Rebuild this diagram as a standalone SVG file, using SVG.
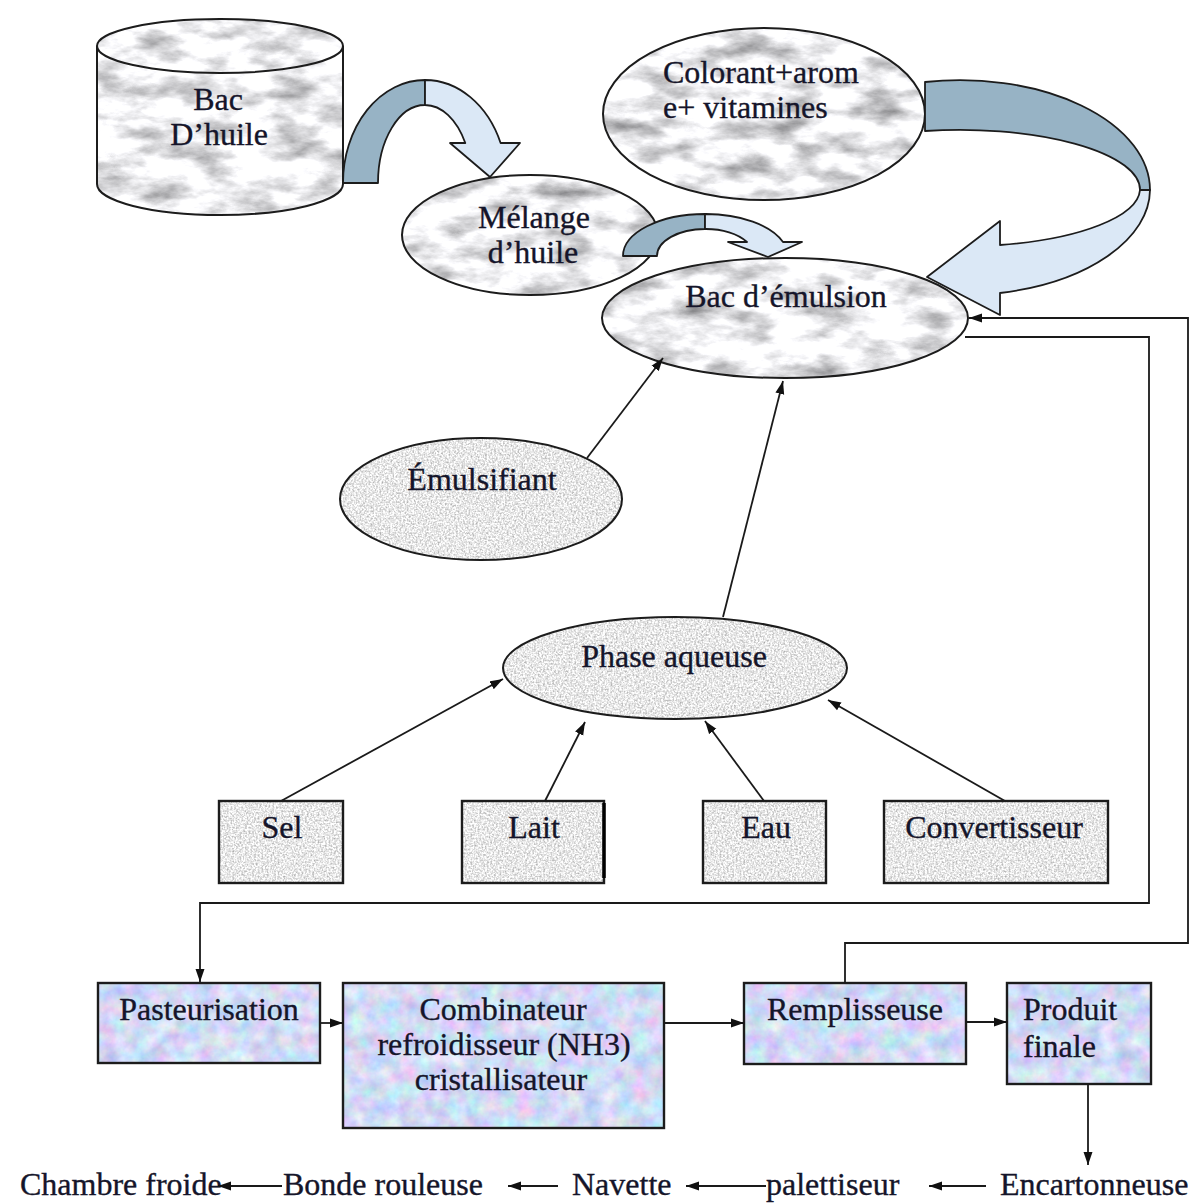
<svg xmlns="http://www.w3.org/2000/svg" width="1197" height="1203" viewBox="0 0 1197 1203">
  <style>
    text { font-family: "Liberation Serif", "Times New Roman", serif; font-size: 32px; fill: #15152a; stroke: #15152a; stroke-width: 0.35; }
    .c { text-anchor: middle; }
    .ol { fill: none; stroke: #1c1c1c; stroke-width: 2; }
    .box { fill: none; stroke: #1c1c1c; stroke-width: 2.4; }
    .wire { fill: none; stroke: #1a1a1a; stroke-width: 1.8; }
    .dark { fill: #97b3c5; stroke: #1c1c1c; stroke-width: 1.8; stroke-linejoin: round; }
    .light { fill: #dbe8f6; stroke: #1c1c1c; stroke-width: 1.8; stroke-linejoin: round; }
  </style>
  <defs>
    <!-- pale grey veined marble for the tanks -->
    <filter id="fMarble" x="0" y="0" width="1" height="1" color-interpolation-filters="sRGB">
      <feTurbulence type="fractalNoise" baseFrequency="0.022 0.05" numOctaves="5" seed="7"/>
      <feColorMatrix type="matrix" values="0.95 0 0 0 0.46  0.95 0 0 0 0.46  0.95 0 0 0 0.47  0 0 0 0 1"/>
      <feComposite in2="SourceAlpha" operator="in"/>
    </filter>
    <!-- fine grey grain for the ingredients -->
    <filter id="fGrain" x="0" y="0" width="1" height="1" color-interpolation-filters="sRGB">
      <feTurbulence type="fractalNoise" baseFrequency="0.55" numOctaves="3" seed="3"/>
      <feColorMatrix type="matrix" values="0.6 0 0 0 0.61  0.6 0 0 0 0.61  0.6 0 0 0 0.61  0 0 0 0 1"/>
      <feComposite in2="SourceAlpha" operator="in"/>
    </filter>
    <!-- soft pastel blue/pink paper for the process steps -->
    <filter id="fPastel" x="0" y="0" width="1" height="1" color-interpolation-filters="sRGB">
      <feTurbulence type="fractalNoise" baseFrequency="0.06" numOctaves="4" seed="11"/>
      <feColorMatrix type="matrix" values="0.4 0 0 0 0.62  0 0.35 0 0 0.68  0 0 0.2 0 0.86  0 0 0 0 1"/>
      <feComposite in2="SourceAlpha" operator="in"/>
    </filter>
    <marker id="ah" viewBox="0 0 13 10" refX="13" refY="5" markerWidth="13" markerHeight="10" markerUnits="userSpaceOnUse" orient="auto">
      <path d="M0,0.5 L13,5 L0,9.5 Z" fill="#111"/>
    </marker>
  </defs>

  <rect width="1197" height="1203" fill="#ffffff"/>

  <!-- oil tank (cylinder) -->
  <g id="bac-huile">
    <path d="M97,46 V184 A123,31 0 0 0 343,184 V46 A123,27 0 0 0 97,46 Z" fill="#eee" filter="url(#fMarble)"/>
    <path d="M97,46 V184 A123,31 0 0 0 343,184 V46 A123,27 0 0 0 97,46 Z" class="ol"/>
    <path d="M97,46 A123,27 0 0 0 343,46" class="ol"/>
    <text class="c" x="218" y="110">Bac</text>
    <text class="c" x="219" y="145">D’huile</text>
  </g>

  <!-- tank to oil blend -->
  <g id="fleche-huile">
    <path class="dark" d="M343,183 A82,103 0 0 1 425,80 L425,105 A47,78 0 0 0 378,183 Z"/>
    <path class="light" d="M425,80 A82,103 0 0 1 500.6,143 L520,143 L490,177 L450,143 L465.3,143 A47,78 0 0 0 425,105 Z"/>
  </g>

  <g id="melange-huile">
    <ellipse cx="530" cy="235" rx="128" ry="60" fill="#eee" filter="url(#fMarble)"/>
    <ellipse cx="530" cy="235" rx="128" ry="60" class="ol"/>
    <text class="c" x="534" y="228">Mélange</text>
    <text class="c" x="533" y="263">d’huile</text>
  </g>

  <g id="bac-emulsion">
    <ellipse cx="785" cy="318" rx="183" ry="60" fill="#eee" filter="url(#fMarble)"/>
    <ellipse cx="785" cy="318" rx="183" ry="60" class="ol"/>
    <text class="c" x="786" y="307">Bac d’émulsion</text>
  </g>

  <!-- oil blend to emulsion tank -->
  <g id="fleche-melange">
    <path class="dark" d="M623,256 A82,42 0 0 1 705,214 L705,229 A48,27 0 0 0 657,256 Z"/>
    <path class="light" d="M705,214 A82,42 0 0 1 783,242 L802,242 L768,257 L728,242 L747,242 A48,27 0 0 0 705,229 Z"/>
  </g>

  <g id="colorant">
    <ellipse cx="764" cy="114" rx="161" ry="86" fill="#eee" filter="url(#fMarble)"/>
    <ellipse cx="764" cy="114" rx="161" ry="86" class="ol"/>
    <text x="663" y="83">Colorant+arom</text>
    <text x="663" y="118">e+ vitamines</text>
  </g>

  <!-- colouring/flavour to emulsion tank -->
  <g id="fleche-colorant">
    <path class="dark" d="M925,82 A190,110 0 0 1 1150,190 L1140,190 A180,60 0 0 0 925,131 Z"/>
    <path class="light" d="M1150,190 A190,106 0 0 1 1000,293 L1000,315 L927,277 L1000,221 L1000,245 A180,58 0 0 0 1140,190 Z"/>
  </g>

  <g id="emulsifiant">
    <ellipse cx="481" cy="499" rx="141" ry="61" fill="#e8e8e8" filter="url(#fGrain)"/>
    <ellipse cx="481" cy="499" rx="141" ry="61" class="ol"/>
    <text class="c" x="482" y="490">Émulsifiant</text>
  </g>

  <g id="phase-aqueuse">
    <ellipse cx="675" cy="668" rx="172" ry="51" fill="#e8e8e8" filter="url(#fGrain)"/>
    <ellipse cx="675" cy="668" rx="172" ry="51" class="ol"/>
    <text class="c" x="674" y="667">Phase aqueuse</text>
  </g>

  <g id="sel">
    <rect x="219" y="801" width="124" height="82" fill="#e8e8e8" filter="url(#fGrain)"/>
    <rect x="219" y="801" width="124" height="82" class="box"/>
    <text class="c" x="282" y="838">Sel</text>
  </g>
  <g id="lait">
    <rect x="462" y="801" width="142" height="82" fill="#e8e8e8" filter="url(#fGrain)"/>
    <rect x="462" y="801" width="142" height="82" class="box"/>
    <line x1="604" y1="803" x2="604" y2="878" stroke="#000" stroke-width="3.5"/>
    <text class="c" x="534" y="838">Lait</text>
  </g>
  <g id="eau">
    <rect x="703" y="801" width="123" height="82" fill="#e8e8e8" filter="url(#fGrain)"/>
    <rect x="703" y="801" width="123" height="82" class="box"/>
    <text class="c" x="766" y="838">Eau</text>
  </g>
  <g id="convertisseur">
    <rect x="884" y="801" width="224" height="82" fill="#e8e8e8" filter="url(#fGrain)"/>
    <rect x="884" y="801" width="224" height="82" class="box"/>
    <text class="c" x="994" y="838">Convertisseur</text>
  </g>

  <g id="pasteurisation">
    <rect x="98" y="983" width="222" height="80" fill="#cfdcf3" filter="url(#fPastel)"/>
    <rect x="98" y="983" width="222" height="80" class="box"/>
    <text class="c" x="209" y="1020">Pasteurisation</text>
  </g>
  <g id="combinateur">
    <rect x="343" y="983" width="321" height="145" fill="#cfdcf3" filter="url(#fPastel)"/>
    <rect x="343" y="983" width="321" height="145" class="box"/>
    <text class="c" x="503" y="1020">Combinateur</text>
    <text class="c" x="504" y="1055">refroidisseur (NH3)</text>
    <text class="c" x="501" y="1090">cristallisateur</text>
  </g>
  <g id="remplisseuse">
    <rect x="744" y="983" width="222" height="81" fill="#cfdcf3" filter="url(#fPastel)"/>
    <rect x="744" y="983" width="222" height="81" class="box"/>
    <text class="c" x="855" y="1020">Remplisseuse</text>
  </g>
  <g id="produit-finale">
    <rect x="1007" y="983" width="144" height="101" fill="#cfdcf3" filter="url(#fPastel)"/>
    <rect x="1007" y="983" width="144" height="101" class="box"/>
    <text x="1023" y="1020">Produit</text>
    <text x="1023" y="1057">finale</text>
  </g>

  <!-- packing line -->
  <g id="encartonneuse"><text x="1000" y="1195">Encartonneuse</text></g>
  <g id="palettiseur"><text x="766" y="1195">palettiseur</text></g>
  <g id="navette"><text x="572" y="1195">Navette</text></g>
  <g id="bonde-rouleuse"><text x="283" y="1195">Bonde rouleuse</text></g>
  <g id="chambre-froide"><text x="20" y="1195">Chambre froide</text></g>

  <g id="connecteurs" marker-end="url(#ah)">
    <path class="wire" d="M587,458 L663,358"/>
    <path class="wire" d="M723,617 L783,381"/>
    <path class="wire" d="M281,801 L503,679"/>
    <path class="wire" d="M545,801 L585,722"/>
    <path class="wire" d="M764,801 L705,721"/>
    <path class="wire" d="M1005,801 L828,700"/>
    <path class="wire" d="M845,983 V943 H1188 V318 H969"/>
    <path class="wire" d="M965,337 H1149 V903 H200 V982"/>
    <path class="wire" d="M320,1023 H343"/>
    <path class="wire" d="M664,1023 H744"/>
    <path class="wire" d="M966,1022 H1007"/>
    <path class="wire" d="M1088,1084 V1165"/>
    <path class="wire" d="M986,1186 H929"/>
    <path class="wire" d="M766,1186 H686"/>
    <path class="wire" d="M558,1186 H508"/>
    <path class="wire" d="M282,1186 H218"/>
  </g>
</svg>
